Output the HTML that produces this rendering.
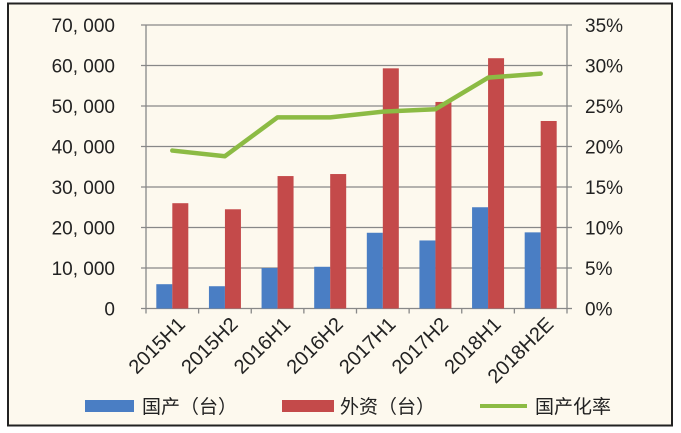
<!DOCTYPE html>
<html><head><meta charset="utf-8"><style>
body{margin:0;background:#fff;}
svg{display:block;font-family:"Liberation Sans","Noto Sans CJK SC",sans-serif;}
</style></head><body>
<svg id="chart" width="681" height="433" viewBox="0 0 681 433" xmlns="http://www.w3.org/2000/svg">
<rect x="8" y="3.5" width="664" height="422" fill="#fdf9ee" stroke="#222" stroke-width="2"/>
<g id="grid"></g><g id="bars"></g><g id="line"></g><g id="axes"></g><g id="labels"></g>
<g>
<rect x="85" y="400" width="49" height="12" fill="#4a7ec4"/>
<text x="142" y="413" font-size="19" fill="#222">国产（台）</text>
<rect x="282" y="400" width="52" height="12" fill="#c44a4a"/>
<text x="340" y="413" font-size="19" fill="#222">外资（台）</text>
<line x1="480" y1="406" x2="527" y2="406" stroke="#8cbb44" stroke-width="4"/>
<text x="535" y="413" font-size="19" fill="#222">国产化率</text>
</g>
</svg>
<script>
const categories=["2015H1","2015H2","2016H1","2016H2","2017H1","2017H2","2018H1","2018H2E"];
const domestic=[6000,5500,10000,10300,18700,16800,25000,18800];
const foreign=[26000,24500,32700,33200,59300,51000,61800,46300];
const rate=[19.5,18.8,23.6,23.6,24.3,24.6,28.5,29.0];
const leftTicks=[0,10000,20000,30000,40000,50000,60000,70000];
const leftTickLabels=["0","10, 000","20, 000","30, 000","40, 000","50, 000","60, 000","70, 000"];
const rightTicks=[0,5,10,15,20,25,30,35];

const NS="http://www.w3.org/2000/svg";
const X0=146,X1=567,Y0=308.5,Y1=25;
const bw=(X1-X0)/categories.length;
const yL=v=>Y0-(v/70000)*(Y0-Y1);
const yR=v=>Y0-(v/35)*(Y0-Y1);
const xC=i=>X0+bw*(i+0.5);
function mk(tag,attrs,parent){const e=document.createElementNS(NS,tag);for(const k in attrs)e.setAttribute(k,attrs[k]);document.getElementById(parent).appendChild(e);return e;}

leftTicks.forEach((t,i)=>{
  const g=mk("line",{x1:X0-5,x2:X1,y1:yL(t),y2:yL(t),stroke:"#888","stroke-width":1.3},"grid");
  
  
  const tx=mk("text",{x:115,y:yL(t)+7,"text-anchor":"end","font-size":19,fill:"#222"},"labels");
  tx.textContent=leftTickLabels[i];
  
  
});
rightTicks.forEach(t=>{
  const tk=mk("line",{x1:X1,x2:X1+5,y1:yR(t),y2:yR(t),stroke:"#888","stroke-width":1.3},"axes");
  
  
  const tx=mk("text",{x:585,y:yR(t)+7,"font-size":19,fill:"#222"},"labels");
  tx.textContent=t+"%";
  
  
});
const la=mk("line",{x1:X0,x2:X0,y1:Y1,y2:Y0,stroke:"#888","stroke-width":1.3},"axes");


const ra=mk("line",{x1:X1,x2:X1,y1:Y1,y2:Y0,stroke:"#888","stroke-width":1.3},"axes");


for(let i=0;i<=categories.length;i++){
  const tk=mk("line",{x1:X0+bw*i,x2:X0+bw*i,y1:Y0,y2:Y0+5,stroke:"#888","stroke-width":1.3},"axes");
  
  
}
categories.forEach((c,i)=>{
  const cx=xC(i);
  const b=mk("rect",{x:cx-16,y:yL(domestic[i]),width:16,height:Y0-yL(domestic[i]),fill:"#4a7ec4"},"bars");
  
  
  const r=mk("rect",{x:cx,y:yL(foreign[i]),width:16,height:Y0-yL(foreign[i]),fill:"#c44a4a"},"bars");
  
  
  const tx=mk("text",{x:0,y:0,"text-anchor":"end","font-size":20,fill:"#222",transform:`translate(${cx+14},${Y0+17}) rotate(-45)`},"labels");
  tx.textContent=c;
  
  
});
const pl=mk("polyline",{points:rate.map((v,i)=>xC(i)+","+yR(v)).join(" "),fill:"none",stroke:"#8cbb44","stroke-width":4.5,"stroke-linejoin":"round","stroke-linecap":"round"},"line");


</script>
</body></html>
